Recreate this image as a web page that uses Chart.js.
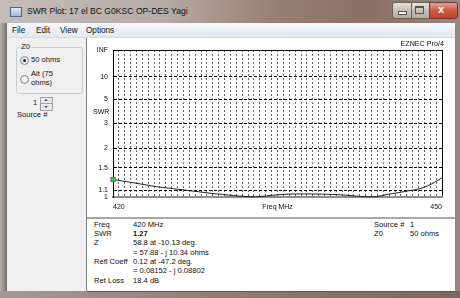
<!DOCTYPE html>
<html><head><meta charset="utf-8">
<script src="https://cdn.jsdelivr.net/npm/chart.js@4"></script>
<style>
html,body{margin:0;padding:0;width:460px;height:298px;overflow:hidden;background:#fff;font-family:"Liberation Sans",Arial,sans-serif;}
.abs{position:absolute;white-space:nowrap;}
#frame{left:0;top:0;width:460px;height:298px;background:linear-gradient(90deg,#c3bdba 0%,#b6aca7 35%,#977f73 60%,#8b7063 80%,#988780 100%);}
#leftstrip{left:0;top:23px;width:7px;height:270px;background:linear-gradient(90deg,#b7b0ad,#8f8682 70%,#6f6966);}
#bottomframe{left:0;top:291px;width:460px;height:7px;background:linear-gradient(90deg,#a29a96,#8a7870 60%,#7b675f);}
#titletext{left:27px;top:6px;font-size:8.6px;color:#111;}
#icon{left:10px;top:7px;width:10px;height:8px;border:1px solid #4a6a8a;background:linear-gradient(#dfe9f5,#9fb8d6);}
.cap{top:2px;height:15px;border:1px solid #6d5d56;border-radius:3px;background:linear-gradient(#e8e2df,#c9bdb8 50%,#b7a9a3);}
#bmin{left:392px;width:18px;border-radius:3px 0 0 3px;}
#bmax{left:411px;width:17px;border-radius:0;}
#bclose{left:429px;width:27px;border-radius:0 3px 3px 0;background:linear-gradient(#e6a092,#cf5a44 50%,#c0432c);border-color:#6b3a30;}
#menubar{left:7px;top:23px;width:448px;height:14px;background:linear-gradient(#f6f8fb,#e3e8f0);border-bottom:1px solid #d7dce4;}
.menu{top:26px;font-size:8.2px;color:#111;}
#leftpanel{left:7px;top:38px;width:79px;height:253px;background:#f0f0f0;}
#sep{left:86px;top:38px;width:1px;height:253px;background:#7f7f7f;}
#plotpanel{left:87px;top:38px;width:368px;height:179px;background:#fff;}
#chartbox{left:88px;top:38px;width:367px;height:179px;}
#midline{left:87px;top:217px;width:368px;height:2px;background:#a8a8a8;}
#infopanel{left:87px;top:219px;width:368px;height:72px;background:#fff;border-bottom:1px solid #555;}
.t{font-size:7.6px;color:#111;}
#group{left:16px;top:47px;width:65px;height:45px;border:1px solid #c6ced4;border-radius:3px;}
#grouplbl{left:20px;top:42px;font-size:7.8px;background:#f0f0f0;padding:0 1px;color:#111;}
.radio{width:7px;height:7px;border:1px solid #8a8a8a;border-radius:50%;background:radial-gradient(#ffffff,#dadada);}
.dot{left:2px;top:2px;width:3px;height:3px;border-radius:50%;background:#1a1a1a;}
#spin{left:40px;top:97px;width:11px;height:12px;border:1px solid #a0a0a0;background:#e9e9e9;}
#spinmid{left:0;top:5px;width:11px;height:1px;background:#a0a0a0;}
.tri{width:0;height:0;border-left:2px solid transparent;border-right:2px solid transparent;}
</style></head>
<body>
<div id="frame" class="abs"></div>
<div id="leftstrip" class="abs"></div>
<div id="bottomframe" class="abs"></div>
<div id="icon" class="abs"></div>
<div id="titletext" class="abs">SWR Plot: 17 el BC G0KSC OP-DES Yagi</div>
<div id="bmin" class="abs cap"></div>
<div id="bmax" class="abs cap"></div>
<div id="bclose" class="abs cap"></div>
<div class="abs" style="left:398px;top:11px;width:7px;height:2px;background:#fff;border:1px solid #555;"></div>
<div class="abs" style="left:415px;top:6px;width:7px;height:5px;border:1px solid #555;border-top-width:2px;background:transparent;"></div>
<div class="abs" style="left:438px;top:3px;font-size:11px;font-weight:bold;color:#fff;">x</div>
<div id="menubar" class="abs"></div>
<div class="abs menu" style="left:12px;">File</div>
<div class="abs menu" style="left:36px;">Edit</div>
<div class="abs menu" style="left:60px;">View</div>
<div class="abs menu" style="left:86px;">Options</div>

<div id="leftpanel" class="abs"></div>
<div id="group" class="abs"></div>
<div id="grouplbl" class="abs">Z0</div>
<div class="abs radio" style="left:20px;top:56px;"><div class="abs dot"></div></div>
<div class="abs t" style="left:31px;top:55px;">50 ohms</div>
<div class="abs radio" style="left:20px;top:75px;"></div>
<div class="abs t" style="left:31px;top:69px;line-height:9px;">Alt (75<br>ohms)</div>
<div class="abs t" style="left:33px;top:98px;">1</div>
<div id="spin" class="abs"><div id="spinmid" class="abs"></div>
<div class="abs tri" style="left:3px;top:1px;border-bottom:2px solid #555;"></div>
<div class="abs tri" style="left:3px;top:8px;border-top:2px solid #555;"></div></div>
<div class="abs t" style="left:17px;top:110px;">Source #</div>
<div id="sep" class="abs"></div>

<div id="plotpanel" class="abs"></div>
<div id="chartbox" class="abs"><canvas id="c" width="367" height="179"></canvas></div>
<div class="abs" style="right:16px;top:39px;font-size:7.2px;color:#111;">EZNEC Pro/4</div>
<div class="abs" style="left:93px;top:108px;font-size:7px;color:#111;">SWR</div>
<div id="midline" class="abs"></div>

<div id="infopanel" class="abs"></div>
<div class="abs t" style="left:94px;top:220px;">Freq</div>
<div class="abs t" style="left:133px;top:220px;">420 MHz</div>
<div class="abs t" style="left:94px;top:229px;">SWR</div>
<div class="abs t" style="left:133px;top:229px;font-weight:bold;">1.27</div>
<div class="abs t" style="left:94px;top:238px;">Z</div>
<div class="abs t" style="left:133px;top:238px;">58.8 at -10.13 deg.</div>
<div class="abs t" style="left:133px;top:248px;">= 57.88 - j 10.34 ohms</div>
<div class="abs t" style="left:94px;top:257px;">Refl Coeff</div>
<div class="abs t" style="left:133px;top:257px;">0.12 at -47.2 deg.</div>
<div class="abs t" style="left:133px;top:266px;">= 0.08152 - j 0.08802</div>
<div class="abs t" style="left:94px;top:276px;">Ret Loss</div>
<div class="abs t" style="left:133px;top:276px;">18.4 dB</div>
<div class="abs t" style="left:374px;top:220px;">Source #</div>
<div class="abs t" style="left:410px;top:220px;">1</div>
<div class="abs t" style="left:374px;top:229px;">Z0</div>
<div class="abs t" style="left:410px;top:229px;">50 ohms</div>

<script>
// ---- data ----
const freqs = [420,421,422,423,424,425,426,427,428,429,430,431,432,433,434,435,436,437,438,439,440,441,442,443,444,445,446,447,448,449,450];
const swr   = [1.27,1.24,1.21,1.18,1.15,1.13,1.11,1.09,1.07,1.05,1.035,1.02,1.008,1.003,1.015,1.03,1.04,1.042,1.042,1.04,1.035,1.028,1.015,1.004,1.005,1.035,1.06,1.09,1.12,1.19,1.30];
const yTicks = [1, 1.1, 1.5, 2, 3, 5, 10, Infinity];
const yTickLabels = ['1', '1.1', '1.5', '2', '3', '5', '10', 'INF'];
const xLabelTicks = [420, 435, 450];
const xLabelText = ['420', 'Freq MHz', '450'];
const xMin = 420, xMax = 450, xGridDivisions = 56;

// ---- SWR scale: linear in reflection coefficient ----
class SwrScale extends Chart.Scale {
  determineDataLimits(){ this.min = yTicks[0]; this.max = Infinity; }
  buildTicks(){ return yTicks.map(v => ({value: v})); }
  getLabelForValue(v){ return String(v); }
  toDecimal(v){ return isFinite(v) ? (v - 1) / (v + 1) : 1; }
  getPixelForValue(v){ return this.getPixelForDecimal(this.toDecimal(v)); }
  getPixelForTick(i){ const t = this.ticks; return (i < 0 || i > t.length - 1) ? null : this.getPixelForValue(t[i].value); }
  getValueForPixel(p){ const g = this.getDecimalForPixel(p); return (1 + g) / (1 - g); }
}
SwrScale.id = 'swr';
SwrScale.defaults = {};
Chart.register(SwrScale);

Chart.defaults.font.family = '"Liberation Sans", Arial, sans-serif';
Chart.defaults.font.size = 7;
Chart.defaults.color = '#111';

new Chart(document.getElementById('c'), {
  type: 'line',
  data: {
    datasets: [{
      data: freqs.map((f, i) => ({x: f, y: swr[i]})),
      borderColor: '#1e1e1e',
      borderWidth: 1,
      tension: 0.3,
      clip: false,
      pointStyle: 'rect',
      pointRadius: ctx => ctx.dataIndex === 0 ? 3 : 0,
      pointBackgroundColor: '#1fe01f',
      pointBorderColor: '#d020d0',
      pointBorderWidth: 1
    }]
  },
  options: {
    responsive: false,
    animation: false,
    events: [],
    layout: { padding: { left: 0, top: 12, right: 13, bottom: 0 } },
    plugins: { legend: { display: false }, tooltip: { enabled: false } },
    scales: {
      x: {
        type: 'linear', min: xMin, max: xMax,
        afterBuildTicks: s => {
          const t = [];
          for (let i = 0; i <= xGridDivisions; i++) t.push({value: xMin + (xMax - xMin) * i / xGridDivisions});
          s.ticks = t;
        },
        afterFit: s => { s.height = 20; },
        ticks: {
          autoSkip: false, maxRotation: 0, align: 'inner', padding: 6,
          callback: v => { const k = xLabelTicks.findIndex(a => Math.abs(a - v) < 1e-6); return k >= 0 ? xLabelText[k] : ''; }
        },
        grid: {
          drawTicks: false,
          color: ctx => (ctx.tick && ctx.index === xGridDivisions) ? '#000' : (ctx.tick && ctx.index === 0 ? 'rgba(0,0,0,0)' : '#6a6a6a'),
          lineWidth: 1
        },
        border: {
          display: true, color: '#8c8c8c', width: 2,
          dash: ctx => (ctx.tick && ctx.index !== xGridDivisions) ? [2, 2] : []
        }
      },
      y: {
        type: 'swr',
        position: 'left',
        afterFit: s => { s.width = 25; },
        ticks: { autoSkip: false, padding: 5, callback: (v, i) => yTickLabels[i] },
        grid: {
          drawTicks: false,
          color: ctx => (ctx.tick && ctx.index === 0) ? 'rgba(0,0,0,0)' : '#000',
          lineWidth: 1
        },
        border: {
          display: true, color: '#000', width: 1,
          dash: ctx => (ctx.tick && ctx.index !== yTicks.length - 1) ? [3, 2] : []
        }
      }
    }
  }
});
</script>
</body></html>
